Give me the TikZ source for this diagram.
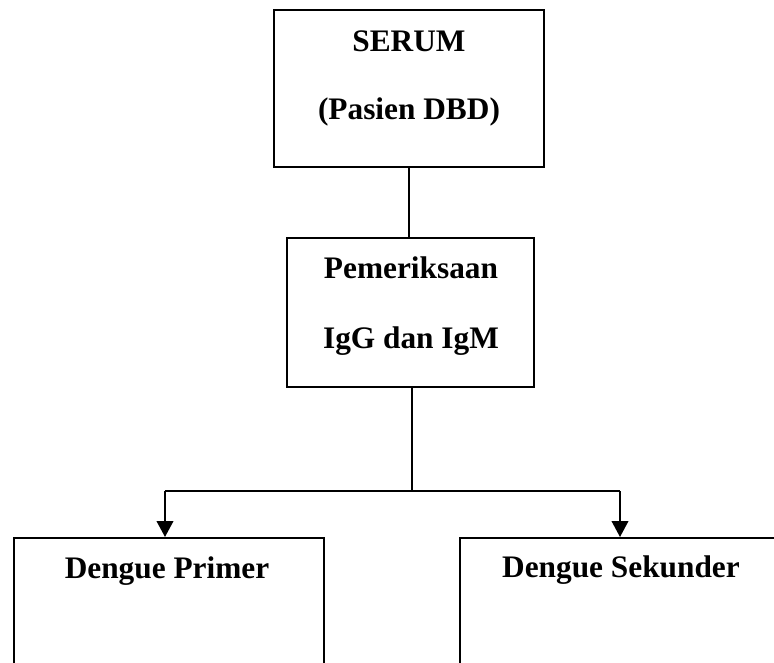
\documentclass[tikz,border=0pt]{standalone}
\usepackage{fontspec}
\setmainfont{Liberation Serif}
\usetikzlibrary{arrows.meta}
\begin{document}
\begin{tikzpicture}[x=0.75pt,y=-0.75pt,
  box/.style={draw,line width=1.4pt,rectangle,inner sep=0pt},
  lbl/.style={anchor=base,inner sep=0pt,font=\fontsize{23.5}{28}\selectfont\bfseries},
  conn/.style={line width=1.4pt},
  arr/.style={line width=1.4pt,-{Triangle[width=12.5pt,length=12pt]}}]
\useasboundingbox (0,0) rectangle (774,663);
\clip (0,0) rectangle (774,663);
% boxes
\node[box,minimum width=270*0.75pt,minimum height=157*0.75pt] (serum) at (409,88.5) {};
\node[box,minimum width=247*0.75pt,minimum height=149*0.75pt] (periksa) at (410.5,312.5) {};
\node[box,minimum width=310*0.75pt,minimum height=200*0.75pt,anchor=north west] (primer) at (13,537) {};
\node[box,minimum width=400*0.75pt,minimum height=200*0.75pt,anchor=north west] (sekunder) at (459,537) {};
% texts
\node[lbl] (t1) at (409,52) {SERUM};
\node[lbl] (t2) at (409,120) {(Pasien DBD)};
\node[lbl] (t3) at (411,278) {Pemeriksaan};
\node[lbl] (t4) at (411,348) {IgG dan IgM};
\node[lbl] (t5) at (167,578) {Dengue Primer};
\node[lbl] (t6) at (621,577) {Dengue Sekunder};
% connectors
\coordinate (split) at (412,491);
\coordinate (left) at (165,491);
\coordinate (right) at (620,491);
\draw[conn] (serum.south) -- (serum.south |- periksa.north);
\draw[conn] (split |- periksa.south) -- (split);
\draw[conn] (left) -- (right);
\draw[arr] (left) -- (left |- primer.north);
\draw[arr] (right) -- (right |- sekunder.north);
\end{tikzpicture}
\end{document}
